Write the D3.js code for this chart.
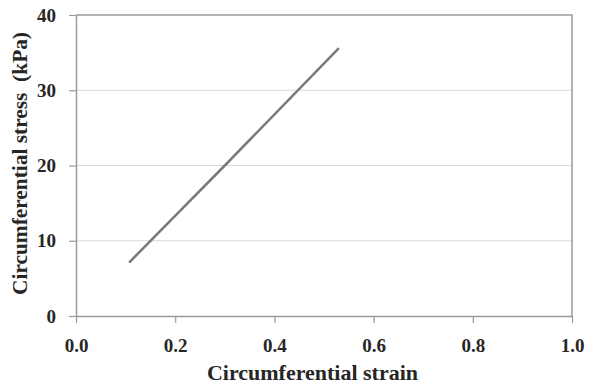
<!DOCTYPE html>
<html>
<head>
<meta charset="utf-8">
<script src="https://cdn.jsdelivr.net/npm/d3@7"></script>
<style>
  body { margin: 0; background: #fff; }
  text { font-family: "Liberation Serif", "Times New Roman", serif; font-weight: bold; fill: #262626; }
</style>
</head>
<body>
<svg id="chart" width="595" height="385"></svg>
<script>
const strain = [0.107, 0.3, 0.53];
const stress = [7.1, 20.0, 35.6];
const xTicks = [0, 0.2, 0.4, 0.6, 0.8, 1.0];
const yTicks = [0, 10, 20, 30, 40];

const margin = { top: 15, right: 23, bottom: 69, left: 76 };
const svg = d3.select("#chart");
const w = 595 - margin.left - margin.right;
const h = 385 - margin.top - margin.bottom;

const x = d3.scaleLinear().domain([0, 1]).range([0, w]);
const y = d3.scaleLinear().domain([0, 40]).range([h, 0]);

const g = svg.append("g").attr("transform", `translate(${margin.left},${margin.top})`);

// gridlines
g.selectAll(".grid")
  .data(yTicks.filter((d) => d > 0 && d < 40))
  .enter()
  .append("line")
  .attr("x1", 0)
  .attr("x2", w)
  .attr("y1", (d) => y(d))
  .attr("y2", (d) => y(d))
  .attr("stroke", "#d9d9d9")
  .attr("stroke-width", 1);

// frame top/right
g.append("path")
  .attr("d", `M0,${y(40)}H${w}V${h}`)
  .attr("fill", "none")
  .attr("stroke", "#9a9a9a")
  .attr("stroke-width", 1.5);

const xAxis = g.append("g")
  .attr("transform", `translate(0,${h})`)
  .call(d3.axisBottom(x).tickValues(xTicks).tickFormat(d3.format(".1f")).tickSizeInner(7).tickSizeOuter(0).tickPadding(16));

const yAxis = g.append("g")
  .call(d3.axisLeft(y).tickValues(yTicks).tickSizeInner(7).tickSizeOuter(0).tickPadding(13));

[xAxis, yAxis].forEach((a) => {
  a.select(".domain").attr("stroke", "#9a9a9a").attr("stroke-width", 1.5);
  a.selectAll(".tick line").attr("stroke", "#9a9a9a").attr("stroke-width", 1.2);
  a.selectAll(".tick text")
    .style("font-family", '"Liberation Serif", serif')
    .style("font-weight", "bold")
    .style("font-size", "19px")
    .attr("fill", "#333");
});

const line = d3.line().x((d, i) => x(strain[i])).y((d) => y(d));
g.append("path")
  .datum(stress)
  .attr("d", line)
  .attr("fill", "none")
  .attr("stroke", "#7a7a7a")
  .attr("stroke-width", 2.5);

svg.append("text")
  .attr("x", 312.5)
  .attr("y", 380)
  .attr("text-anchor", "middle")
  .style("font-size", "21px")
  .attr("fill", "#333")
  .attr("textLength", 211)
  .attr("lengthAdjust", "spacingAndGlyphs")
  .text("Circumferential strain");

svg.append("text")
  .attr("transform", `translate(27,163.5) rotate(-90)`)
  .attr("text-anchor", "middle")
  .style("font-size", "21px")
  .attr("fill", "#333")
  .attr("xml:space", "preserve")
  .style("white-space", "pre")
  .attr("textLength", 263)
  .attr("lengthAdjust", "spacingAndGlyphs")
  .text("Circumferential stress  (kPa)");
</script>
</body>
</html>
